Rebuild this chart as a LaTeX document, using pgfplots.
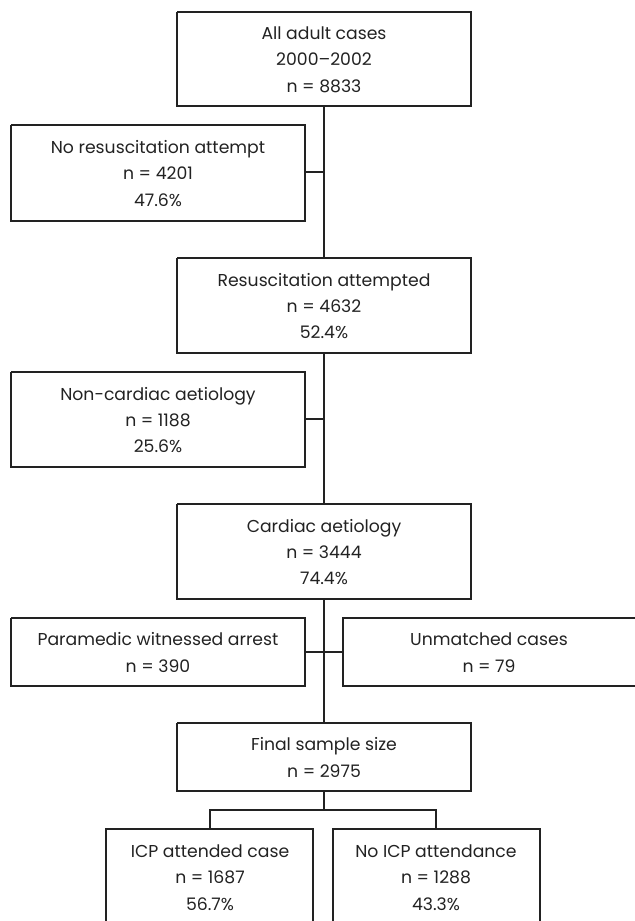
\documentclass[border=0pt]{standalone}
\usepackage{pgfplots}
\pgfplotsset{compat=1.18}
\usepackage{fontspec}
\setmainfont{Poppins}
\definecolor{ink}{HTML}{222222}
\newcommand{\fs}{\fontsize{17.3}{26.5}\selectfont}
\tikzset{bx/.style={draw=ink, line width=1.2bp, solid, mark=none},
         ln/.style={draw=ink, line width=1.6bp, solid, mark=none}}
\begin{document}
\begin{tikzpicture}[x=1bp,y=1bp]
\begin{axis}[
  width=635bp, height=921bp, scale only axis,
  xmin=0, xmax=635, ymin=0, ymax=921, y dir=reverse,
  axis lines=none, enlargelimits=false, clip=true,
]
% invisible frame so that the picture spans the whole axis area
\addplot[draw=none, mark=none] coordinates {(0,0) (635,921)};
% boxes
\addplot[bx] coordinates {(177,12) (471,12) (471,106) (177,106) (177,12)};
\addplot[bx] coordinates {(11,125) (305,125) (305,221) (11,221) (11,125)};
\addplot[bx] coordinates {(177,258) (471,258) (471,353) (177,353) (177,258)};
\addplot[bx] coordinates {(11,372) (305,372) (305,467) (11,467) (11,372)};
\addplot[bx] coordinates {(177,504) (471,504) (471,599) (177,599) (177,504)};
\addplot[bx] coordinates {(11,618) (305,618) (305,686) (11,686) (11,618)};
\addplot[bx] coordinates {(635,618) (343,618) (343,686) (635,686)};
\addplot[bx] coordinates {(177,723) (471,723) (471,791) (177,791) (177,723)};
\addplot[bx] coordinates {(106,921) (106,829) (313,829) (313,921)};
\addplot[bx] coordinates {(333,921) (333,829) (540,829) (540,921)};
% connectors
\addplot[ln] coordinates {(324,106) (324,258)};
\addplot[ln] coordinates {(324,353) (324,504)};
\addplot[ln] coordinates {(324,599) (324,723)};
\addplot[bx] coordinates {(305,172) (324,172)};
\addplot[bx] coordinates {(305,419) (324,419)};
\addplot[bx] coordinates {(305,652) (343,652)};
\addplot[bx] coordinates {(324,791) (324,810)};
\addplot[bx] coordinates {(210,829) (210,810) (436,810) (436,829)};
% texts
\begin{scope}[every node/.style={align=center, font=\fs, text=ink, inner sep=0pt}]
\node at (axis cs:324,59.5) {All adult cases\\2000–2002\\n = 8833};
\node at (axis cs:158,173.5) {No resuscitation attempt\\n = 4201\\47.6\%};
\node at (axis cs:324,306) {Resuscitation attempted\\n = 4632\\52.4\%};
\node at (axis cs:158,420) {Non-cardiac aetiology\\n = 1188\\25.6\%};
\node at (axis cs:324,552) {Cardiac aetiology\\n = 3444\\74.4\%};
\node at (axis cs:158,652.5) {Paramedic witnessed arrest\\n = 390};
\node at (axis cs:489,652.5) {Unmatched cases\\n = 79};
\node at (axis cs:324,757.5) {Final sample size\\n = 2975};
\node at (axis cs:210,877.5) {ICP attended case\\n = 1687\\56.7\%};
\node at (axis cs:436,877.5) {No ICP attendance\\n = 1288\\43.3\%};
\end{scope}
\end{axis}
\end{tikzpicture}
\end{document}
